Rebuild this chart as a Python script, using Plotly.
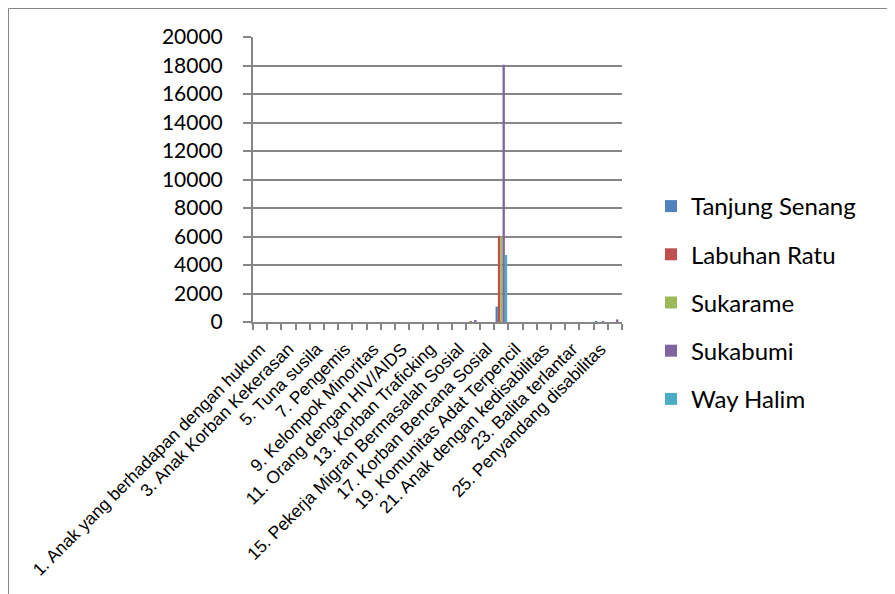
import plotly.graph_objects as go

categories = [
    "1. Anak yang berhadapan dengan hukum",
    "2. Anak jalanan",
    "3. Anak Korban Kekerasan",
    "4. Anak yang memerlukan perlindungan khusus",
    "5. Tuna susila",
    "6. Gelandangan",
    "7. Pengemis",
    "8. Pemulung",
    "9. Kelompok Minoritas",
    "10. Bekas warga binaan lembaga pemasyarakatan",
    "11. Orang dengan HIV/AIDS",
    "12. Korban penyalahgunaan NAPZA",
    "13. Korban Traficking",
    "14. Korban tindak kekerasan",
    "15. Pekerja Migran Bermasalah Sosial",
    "16. Korban bencana alam",
    "17. Korban Bencana Sosial",
    "18. Fakir miskin",
    "19. Komunitas Adat Terpencil",
    "20. Perempuan rawan sosial ekonomi",
    "21. Anak dengan kedisabilitas",
    "22. Anak terlantar",
    "23. Balita terlantar",
    "24. Lanjut usia terlantar",
    "25. Penyandang disabilitas",
    "26. Keluarga bermasalah sosial psikologis",
]
shown_labels = [c if i % 2 == 0 else "" for i, c in enumerate(categories)]

series_names = ["Tanjung Senang", "Labuhan Ratu", "Sukarame", "Sukabumi", "Way Halim"]
tanjung_senang = [0, 0, 0, 0, 0, 0, 0, 0, 0, 0, 0, 0, 0, 0, 0, 0, 0, 1080, 0, 0, 0, 0, 0, 0, 60, 0]
labuhan_ratu   = [0, 0, 0, 0, 0, 0, 0, 0, 0, 0, 0, 0, 0, 0, 0, 70, 0, 6050, 0, 0, 0, 0, 0, 0, 0, 0]
sukarame       = [0, 0, 0, 0, 0, 0, 0, 0, 0, 0, 0, 0, 0, 0, 0, 0, 0, 6000, 0, 0, 0, 0, 0, 0, 0, 0]
sukabumi       = [0, 0, 0, 0, 0, 0, 0, 0, 0, 0, 0, 0, 0, 0, 0, 140, 0, 18050, 0, 0, 0, 0, 0, 0, 70, 180]
way_halim      = [0, 0, 0, 0, 0, 0, 0, 0, 0, 0, 0, 0, 0, 0, 0, 0, 0, 4700, 0, 0, 0, 0, 0, 0, 0, 0]
colors = ["#4F81BD", "#C0504D", "#9BBB59", "#8064A2", "#4BACC6"]

y_ticks = list(range(0, 20001, 2000))
y_tick_text = [str(v) for v in y_ticks]

fig = go.Figure()
for name, vals, col in zip(series_names,
                           [tanjung_senang, labuhan_ratu, sukarame, sukabumi, way_halim],
                           colors):
    fig.add_trace(go.Bar(x=categories, y=vals, name=name, marker_color=col,
                         marker_line_width=0, legendgroup=name))

# page body has an 8px margin: the figure starts at screen (8, 8)
OFF = 8
W, H = 895 - OFF, 594 - OFF
L, R, T, B = 253, 622, 37, 322          # plot area in screen coordinates
pw, ph = R - L, B - T

def px(x):
    return (x - L) / pw

def py(y):
    return (B - y) / ph

fig.update_layout(
    width=W, height=H,
    margin=dict(l=L - OFF, r=W - (R - OFF), t=T - OFF, b=H - (B - OFF), autoexpand=False),
    paper_bgcolor="white", plot_bgcolor="white",
    barmode="group", bargap=0.18, bargroupgap=0,
    showlegend=True,
    legend=dict(x=px(651), y=py(184), xanchor="left", yanchor="top",
                font=dict(family="Lato", size=24, color="black"),
                tracegroupgap=14, itemwidth=30, bgcolor="rgba(0,0,0,0)"),
    xaxis=dict(type="category", tickmode="array", tickvals=categories, ticktext=shown_labels,
               tickson="boundaries", ticks="outside", ticklen=6, tickcolor="#868686",
               tickwidth=1.5, showline=True, linecolor="#868686", linewidth=2,
               showgrid=False, tickangle=-45, ticklabelstandoff=8,
               tickfont=dict(family="Liberation Sans", size=17.5, color="black")),
    yaxis=dict(range=[0, 20000], tickmode="array", tickvals=y_ticks, ticktext=y_tick_text,
               ticks="outside", ticklen=8,
               tickcolor="#868686", tickwidth=1.5, showline=True, linecolor="#868686",
               linewidth=2, showgrid=True, gridcolor="#868686", gridwidth=1.5,
               zeroline=False, ticklabelstandoff=16,
               tickfont=dict(family="Lato", size=21, color="black")),
    shapes=[dict(type="rect", xref="paper", yref="paper",
                 x0=px(8.5), x1=px(888.5), y0=py(640), y1=py(8.5),
                 line=dict(color="#878787", width=1), fillcolor="rgba(0,0,0,0)",
                 layer="below")],
)

fig.write_html("out.html")
